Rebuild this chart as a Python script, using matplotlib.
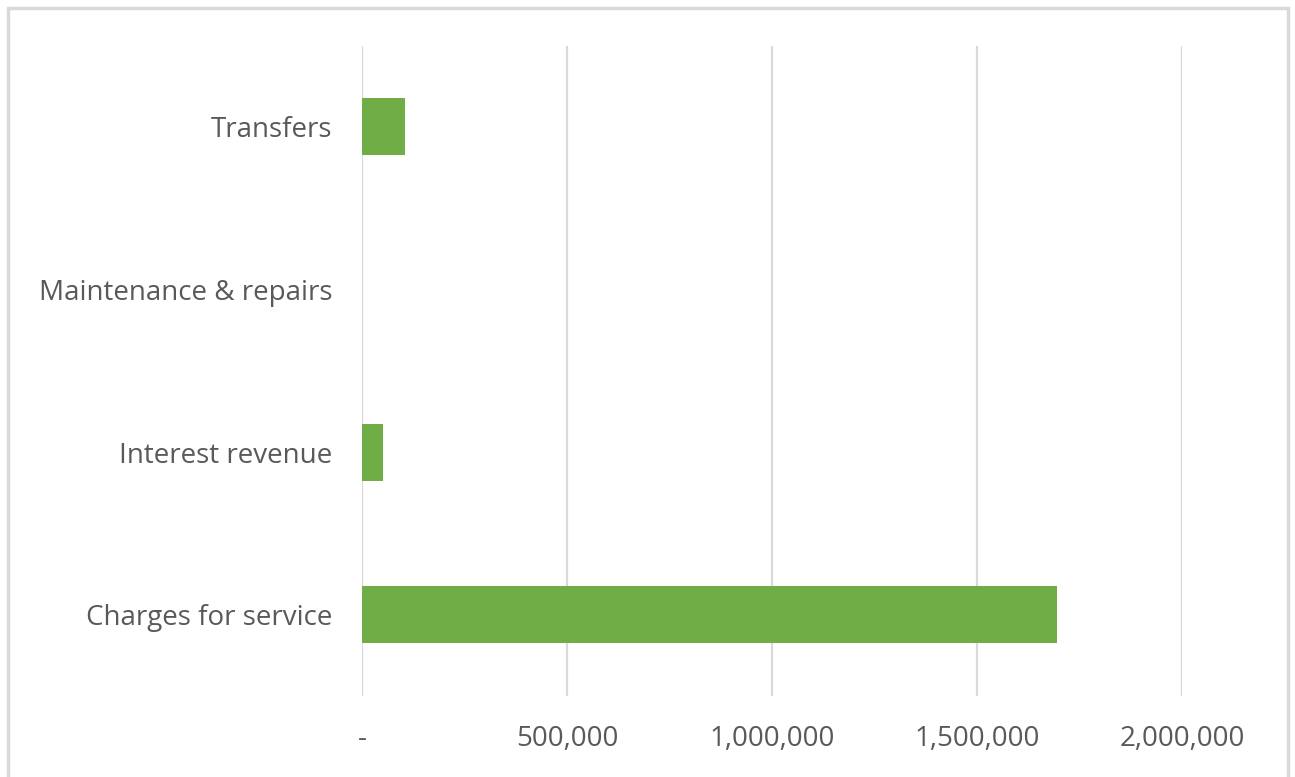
import matplotlib
matplotlib.use("Agg")
import matplotlib.pyplot as plt
from matplotlib.ticker import FuncFormatter
from matplotlib.patches import Rectangle

# revenue / expense categories, bottom to top
categories = ["Charges for service", "Interest revenue", "Maintenance & repairs", "Transfers"]
amounts = [1694000, 50000, 0, 104000]

x_ticks = [0, 500000, 1000000, 1500000, 2000000]

BAR_GREEN = "#70ad47"
GRID_GRAY = "#d9d9d9"
TEXT_GRAY = "#595959"

plt.rcParams["font.family"] = ["Open Sans", "DejaVu Sans"]

fig = plt.figure(figsize=(12.95, 7.77), dpi=100)
ax = fig.add_axes([362 / 1295, 1 - 696 / 777, (1182 - 362) / 1295, (696 - 45.5) / 777])

ypos = range(len(categories))
ax.barh(ypos, amounts, height=0.35, color=BAR_GREEN, zorder=3)

ax.set_xlim(0, 2000000)
ax.set_ylim(-0.5, len(categories) - 0.5)
ax.set_xticks(x_ticks)
ax.xaxis.set_major_formatter(FuncFormatter(lambda v, p: "-" if v == 0 else f"{int(v):,}"))
ax.set_yticks(list(ypos))
ax.set_yticklabels(categories)

ax.grid(axis="x", color=GRID_GRAY, linewidth=1.6, zorder=0)
ax.tick_params(axis="both", length=0, labelsize=20, labelcolor=TEXT_GRAY)
ax.tick_params(axis="x", pad=21)
ax.tick_params(axis="y", pad=21.5)
for s in ax.spines.values():
    s.set_visible(False)

# chart area border
fig.patches.append(Rectangle((8 / 1295, 0 - 2 / 777), 1280 / 1295, 771 / 777,
                             transform=fig.transFigure, fill=False,
                             edgecolor=GRID_GRAY, linewidth=2.5))

fig.savefig("out.png", dpi=100)
